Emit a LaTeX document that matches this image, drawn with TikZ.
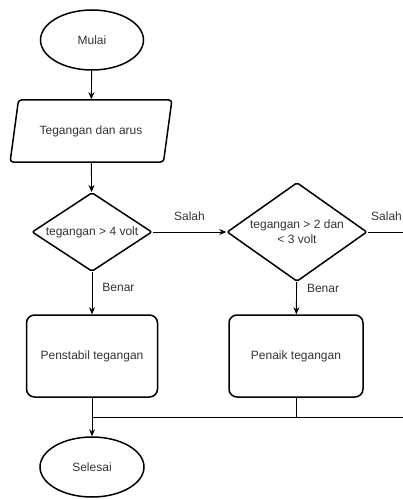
\documentclass[tikz,border=0pt]{standalone}
\usepackage{fontspec}
\setmainfont{Liberation Sans}
\usetikzlibrary{shapes.geometric,arrows.meta}
\begin{document}
\begin{tikzpicture}[x=1pt,y=-1pt,
    every node/.style={font=\fontsize{12}{15}\selectfont,text=black!80,inner sep=0pt},
    terminal/.style={ellipse,draw=black,line width=1.5pt,minimum width=103pt,minimum height=60pt},
    io/.style={trapezium,trapezium left angle=62,trapezium right angle=118,
      trapezium stretches=true,draw=black,line width=1.5pt,rounded corners=3pt,
      minimum width=162pt,minimum height=62pt},
    decision/.style={diamond,shape aspect=1.45,draw=black,line width=1.5pt,
      rounded corners=2pt,align=center},
    process/.style={rectangle,rounded corners=8pt,draw=black,line width=1.5pt,
      minimum width=131pt,minimum height=82pt}]
  \useasboundingbox (0,0) rectangle (403,500);
  \clip (0,0) rectangle (403,500);
  \node[terminal] (mulai) at (92,40) {Mulai};
  \node[io] (input) at (91,131) {Tegangan dan arus};
  \node[decision,minimum width=120pt,minimum height=79pt] (cek1) at (92,232) {tegangan > 4 volt};
  \node[decision,minimum width=140pt,minimum height=99pt] (cek2) at (297,232) {tegangan > 2 dan\\< 3 volt};
  \node[process] (stabil) at (92,356) {Penstabil tegangan};
  \node[process,minimum width=134pt] (naik) at (296,356) {Penaik tegangan};
  \node[terminal,minimum width=104pt] (selesai) at (92,467) {Selesai};
  \coordinate (lanjut) at (420,232);
  \coordinate (gabung) at (92,417);
  \coordinate (kanan) at (420,417);
  \begin{scope}[line width=0.9pt,-{Stealth[length=7pt,width=6pt]}]
    \draw (mulai) to (input);
    \draw (input) to (cek1);
    \draw (cek1) to node[above=11pt] (s1) {Salah} (cek2);
    \draw (cek1) to node[pos=0.35,right=10pt] (b1) {Benar} (stabil);
    \draw (cek2) to node[pos=0.2,right=10pt] (b2) {Benar} (naik);
    \draw (stabil) to (selesai);
  \end{scope}
  \begin{scope}[line width=0.9pt]
    \draw (cek2.east) to node[pos=0.36,above=11pt] (s2) {Salah} (lanjut);
    \draw (naik.south) to (naik.south |- gabung);
    \draw (gabung) to (kanan);
  \end{scope}
\end{tikzpicture}
\end{document}
